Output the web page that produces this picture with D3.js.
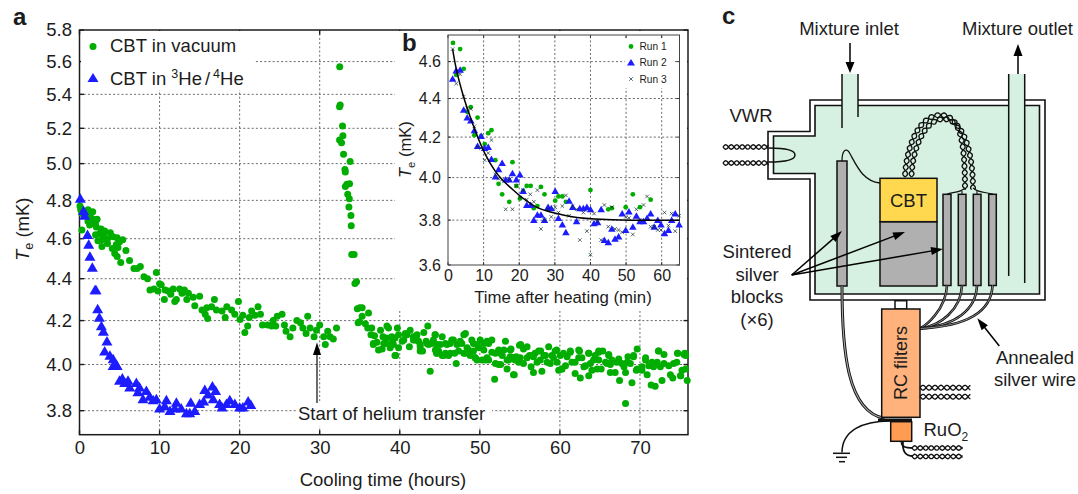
<!DOCTYPE html>
<html>
<head>
<meta charset="utf-8">
<style>
html, body {margin: 0; padding: 0; background: #fff;}
svg {display: block;}
text {font-family: "Liberation Sans", Arial, sans-serif; fill: #1c1c1c;}
</style>
<script src="https://d3js.org/d3.v7.min.js"></script>
</head>
<body>
<svg id="vis" width="1078" height="494"></svg>
<script>
// panel a: [cooling time in hours, Te in mK]
var vacuumEarly = [[0.06,4.77],[0.15,4.75],[1.06,4.75],[1.65,4.74],[0.3,4.73],[1.06,4.72],[1.4,4.71],[1.7,4.7],[1.06,4.69],[1.98,4.68],[1.27,4.67],[2.1,4.66],[2.7,4.65],[0.3,4.645],[3.15,4.64],[3.85,4.63],[2.5,4.625],[4.7,4.605],[5.4,4.595],[2.3,4.59],[2.8,4.595],[3.5,4.575],[2.8,4.56],[5,4.585],[4.8,4.555],[5.8,4.54],[4.4,4.525],[4.7,4.51],[5.15,4.48],[6.25,4.49],[6.8,4.45],[7.2,4.45],[7.6,4.46],[8.05,4.41],[8.5,4.4],[9.6,4.43],[10,4.375],[8.8,4.345],[9.3,4.35],[9.8,4.34],
  [2.2,4.7],[3,4.62],[3.5,4.6],[4.2,4.61],[2,4.62],[4.6,4.57],[4.1,4.55],
  [10.2,4.37],[10.7,4.345],[11.1,4.34],[11.7,4.35],[11.4,4.325],[10.6,4.3],[12.5,4.35],[13.1,4.345],[12.8,4.33],[13.6,4.33],[13.4,4.3],[12.1,4.3],[11.9,4.29],[14.2,4.31],[15,4.315],[14.4,4.27],[15.3,4.25],[15.7,4.23],[16,4.21],[15.9,4.26],[16.5,4.265],[16.85,4.3],[17.1,4.25],[17.8,4.245],[18.4,4.265],[19,4.25],[18.2,4.215],[19.4,4.23],[19.85,4.29],[20.05,4.205],[20.4,4.225],[21,4.175],[20.65,4.145],[21.2,4.215],[21.5,4.245],[21.9,4.225],[22.3,4.265],[22.6,4.23],[22.85,4.18],[23.5,4.18],[24,4.175],[24.5,4.175],[24.2,4.2],[24.7,4.22],[25.3,4.23],[25.6,4.18],[25.8,4.15],[26.3,4.125],[26.65,4.165],[27.15,4.2],[27.6,4.19],[27.9,4.165],[28.5,4.22],[28.3,4.14],[28.8,4.165],[29.3,4.125],[29.6,4.155],[30,4.18],[30.5,4.125],[30.7,4.09],[31,4.15],[31.3,4.125],[31.7,4.115],[32.1,4.165]];
var vacuumPeak = [[32.5,5.568],[32.56,5.336],[32.48,5.326],[32.85,5.213],[32.9,5.157],[32.48,5.133],[32.73,5.117],[32.98,5.053],[33.8,5.012],[33.15,4.968],[33.2,4.953],[33.73,4.89],[33.4,4.887],[33.2,4.874],[33.5,4.833],[33.7,4.808],[33.65,4.765],[33.9,4.72],[33.94,4.667],[34,4.52],[34.3,4.52],[34.4,4.377],[34.6,4.385],[34.7,4.255],[35,4.26],[34.8,4.19]];
var vacuumLate = [[35.3,4.26],[36.1,4.235],[35.3,4.22],[34.95,4.195],[35.7,4.185],[36,4.165],[36.5,4.165],[37.6,4.155],[38.4,4.175],[38.6,4.165],[39.7,4.165],[36.4,4.135],[36.85,4.13],[37.9,4.125],[36.7,4.095],[37.35,4.065],[37.8,4.07],[38.2,4.095],[38.8,4.075],[39.1,4.1],[39.4,4.12],[39.85,4.135],[40.3,4.105],[39.85,4.075],[39.5,4.04],[40.7,4.135],[41.3,4.155],[41.2,4.08],[41.7,4.125],[42.15,4.135],[43,4.145],[43.5,4.175],[42.35,4.105],[42.85,4.06],[42.55,4.08],[43.3,4.105],[43.6,4.09],[44.2,4.11],[44.45,4.135],[43.8,3.97],[44.65,4.09],[45.3,4.125],[44.85,4.06],[45.3,4.04],[45.7,4.05],[45.9,4.09],[46.5,4.11],[46.3,4.05],[46.85,4.05],[47.05,4.005],[47.35,4.06],[47.75,4.095],[48,4.135],[48.2,4.05],[48.6,4.065],[49,4.11],[48.8,4.04],[49.45,4.03],[50.05,4.11],[49.65,4.09],[50.5,4.065],[50.3,4.02],[50.9,4.105],[51.5,4.11],[51.1,4.02],[51.85,3.935],[51.5,4.055],[52.35,4.065],[53.2,4.105],[52.8,4.04],[51.95,4.005],[52.6,4],[53.4,3.98],[53.8,4.065],[54,4.03],[54.2,3.955],
  [36.7,4.09],[38.8,4.09],[39.4,4.04],[40.7,4.14],[41.9,4.11],[42.55,4.06],[44.4,4.135],[44.6,4.05],[45.5,4.04],[48.2,4.14],[49.4,4.03],[50.9,4.03],
  [37.15,4.1],[38,4.095],[38.4,4.12],[39,4.125],[39.2,4.09],[40.5,4.11],[40.9,4.135],[41.7,4.11],[42.15,4.11],[42.55,4.09],[43.4,4.095],[44,4.095],[44.45,4.065],[45.05,4.09],[45.7,4.095],[46.3,4.095],[46.7,4.11],[47.15,4.09],[47.55,4.105],[48.4,4.075],[49.2,4.095],[49.2,4.06],[49.85,4.075],[50.5,4.095],[51.1,4.095],[51.95,4.05],[52.6,4.05],[53,4.065],[53.8,4.035],[53.6,4.02],[44.65,4.05],[46.1,4.04],[48,4.05],[49.65,4.02],[50.7,4.02],[52.35,4],[53.4,4.02],
  [54.95,4.087],[55.45,4.07],[55.9,4.08],[53.9,4.07],[54,4.03],[54.55,4.035],[54.85,4.01],[54.3,3.955],[55.45,4.005],[56.2,4.04],[56.4,3.99],[56.7,3.965],[57.35,4.06],[56.9,4.05],[57.75,3.97],[57.55,4.02],[58.2,4.04],[58.6,4.08],[59.4,4.06],[58.8,4.005],[59.2,4.03],[59.85,3.975],[60.25,3.98],[60.45,4.05],[60.7,3.995],[61.3,4.055],[61.5,4.01],[62.45,4.06],[62.75,4.03],[61.9,3.96],[62.55,3.94],[63.2,3.995],[63.6,3.95],[63.6,4.05],[64.2,4.02],[64.85,4.055],[65.35,4.06],[64.65,3.98],[65.15,3.98],[66.1,4.045],[65.9,4.005],[66.3,3.965],[66.9,3.965],[67.1,4.01],[67.45,3.93],[68,3.99],[68.5,4.035],[69.2,4.04],[69.65,4.07],[69,3.92],[68.2,3.83],[69.55,3.975],[70.25,3.975],[70.9,3.955],[70.7,4.02],[71.5,4.01],[71.4,3.91],[71.9,3.905],[72.35,4.06],[73,4.045],[72.55,3.99],[72.75,3.93],[73.8,3.955],[74.1,3.94],[73.6,3.995],[74.6,4.01],[74.7,4.05],[75.5,4.045],[75.05,3.95],[75.7,3.98],[75.9,3.93],
  [54.2,4.03],[55.1,4.09],[56.5,4.04],[57.6,4.06],[59.6,4.065],[61.3,4.06],[62.35,4.065],[63.6,4.05],[64.85,4.06],[66.1,4.04],[69.2,4.035],[70.7,4.03],[72.3,4.06],[74.7,4.05],[75.6,4.05],[75.1,3.95],
  [54.4,4.02],[55.05,4.03],[55.9,4.03],[56.7,4.035],[57.15,4.01],[58,4.04],[58.4,4.01],[59,4.04],[59.65,4.01],[60.05,4.04],[60.25,3.98],[60.9,4.035],[61.9,4.01],[62.35,4.03],[63,3.99],[63.8,4.005],[64.4,4.04],[64,3.975],[64.85,4.02],[65.7,4.01],[66.5,4.02],[66.3,4],[67.35,4.025],[67.75,4.005],[68.4,4.01],[68.2,3.965],[68.8,4.005],[69.65,3.98],[70.25,3.99],[71.1,3.995],[71.7,3.99],[72.15,4.01],[73,4.005],[74.2,4.005],[75.25,3.975],[75.7,4.04]];
var heliumPoints = [[0.1,4.81],[0.5,4.745],[0.65,4.72],[1,4.62],[1.15,4.57],[1.3,4.51],[1.6,4.455],[1.94,4.345],[2.06,4.345],[2.27,4.255],[2.48,4.215],[2.73,4.175],[2.98,4.15],[3.43,4.105],[3.14,4.06],[3.8,4.04],[4.2,4.025],[4.48,4.005],[4.2,3.995],[4.7,3.995],[5.35,3.94],[5,3.93],[6.06,3.93],[5.64,3.92],[7.1,3.92],[6.27,3.9],[7.5,3.9],[8.35,3.885],[7.3,3.88],[8.77,3.86],[7.93,3.85],[9.6,3.85],[9.2,3.845],[10.85,3.845],[10,3.81],[10.65,3.82],[11.3,3.8],[12.1,3.835],[11.9,3.81],[12.7,3.81],[13.35,3.79],[13.77,3.79],[13.9,3.835],[14.4,3.8],[15,3.83],[15.5,3.84],[15.65,3.89],[16.06,3.87],[16.6,3.905],[17,3.885],[16.7,3.85],[17.5,3.83],[17.8,3.815],[18.35,3.83],[18.77,3.845],[19.4,3.83],[20,3.815],[20.4,3.815],[21.06,3.84],[21.4,3.825]];
var xTicksA = [0,10,20,30,40,50,60,70];
var yTicksA = [3.8,4.0,4.2,4.4,4.6,4.8,5.0,5.2,5.4,5.6,5.8];

// panel b: [time after heating in min, Te in mK]
var run1 = [[1.4,4.705],[2.3,4.527],[3.4,4.67],[4.4,4.56],[5.4,4.33],[6.4,4.355],[7.4,4.21],[8.3,4.3],[9.3,4.205],[10.3,4.165],[11.3,4.22],[12.2,4.235],[13.3,4.085],[14.2,3.97],[15.2,3.92],[17.2,3.885],[18.1,4.075],[19.2,3.96],[20.2,3.9],[21.1,3.935],[22.1,3.96],[23.2,3.96],[24.1,3.855],[25.1,3.865],[26.1,3.955],[27.1,3.92],[28.1,3.85],[30.1,3.89],[31,3.91],[32.1,3.91],[33.1,3.885],[40,3.94],[45,3.85],[46,3.855],[49.9,3.86],[51.9,3.92],[53.9,3.86],[56.9,3.895]];
var run2 = [[1.3,4.505],[2.3,4.55],[3.4,4.555],[4.4,4.34],[5.4,4.3],[6.4,4.285],[7.4,4.235],[8.3,4.155],[9.3,4.205],[10.3,4.145],[11.3,4.15],[12.2,4.09],[13.3,4.005],[14.2,4.04],[15.2,4.07],[16.2,3.99],[17.2,3.99],[18.1,4.02],[19.2,3.99],[20.2,4.015],[21.1,3.935],[22.1,3.87],[23.2,3.87],[24.1,3.8],[25.1,3.825],[26.1,3.825],[27.1,3.8],[28.1,3.86],[29,3.855],[30.1,3.935],[31,3.81],[32.1,3.78],[33.1,3.745],[34,3.89],[35,3.86],[36.1,3.795],[37,3.855],[38,3.855],[39,3.86],[40,3.85],[41,3.785],[42,3.79],[43,3.85],[43.9,3.71],[45,3.7],[46,3.76],[46.9,3.715],[47.9,3.725],[48.9,3.83],[49.9,3.755],[50.8,3.84],[51.9,3.77],[52.9,3.82],[53.9,3.795],[54.9,3.795],[55.9,3.81],[56.9,3.83],[57.9,3.77],[58.9,3.8],[59.8,3.78],[60.8,3.74],[61.9,3.755],[62.8,3.8],[63.8,3.83],[64.9,3.78]];
var run3 = [[1.3,4.67],[2.3,4.48],[3.4,4.53],[4.4,4.41],[5.4,4.35],[6.4,4.345],[7.4,4.255],[8.3,4.15],[9.3,4.145],[10.3,4.085],[11.3,4.12],[12.2,4.185],[13.3,4.015],[14.2,3.995],[15.2,3.99],[16.2,3.85],[17.2,3.99],[18.1,3.85],[19.2,3.96],[20.2,3.905],[21.1,3.94],[22.1,3.895],[23.1,3.92],[24.1,3.885],[25.1,3.94],[26.1,3.76],[27.1,3.8],[28.1,3.85],[29,3.815],[30.1,3.86],[31,3.835],[32.1,3.865],[33.1,3.915],[34,3.82],[35,3.865],[36.1,3.85],[37,3.71],[38,3.835],[39,3.75],[40,3.645],[41,3.83],[42,3.795],[43,3.71],[43.9,3.87],[45,3.77],[46,3.86],[46.9,3.76],[47.9,3.755],[48.9,3.745],[49.9,3.815],[50.8,3.81],[51.9,3.735],[52.9,3.85],[53.9,3.8],[54.9,3.87],[55.9,3.91],[56.9,3.77],[57.9,3.77],[58.9,3.755],[59.8,3.755],[60.8,3.835],[61.9,3.775],[62.8,3.83],[63.8,3.75],[64.9,3.82]];
var fitCurve = [[1.3,4.67],[2,4.59],[3.9,4.44],[6.9,4.27],[10.3,4.12],[13.3,4.03],[18,3.945],[24.3,3.865],[32,3.825],[41.3,3.805],[51,3.8],[65,3.8]];
var xTicksB = [0,10,20,30,40,50,60];
var yTicksB = [3.6,3.8,4.0,4.2,4.4,4.6];

var green = "#00ad00", blue = "#1c1cff", ink = "#1c1c1c", darkX = "#0d2b2b";
var svg = d3.select("#vis");

function grid(g, x, y, xt, yt) {
  var gg = g.append("g").attr("stroke", "#6a6a6a").attr("stroke-width", 1).attr("stroke-dasharray", "2,2.2");
  xt.forEach(function(d) { if (d > x.domain()[0]) gg.append("line").attr("x1", x(d)).attr("x2", x(d)).attr("y1", y.range()[0]).attr("y2", y.range()[1]); });
  yt.forEach(function(d) { if (d > y.domain()[0] && d < y.domain()[1]) gg.append("line").attr("x1", x.range()[0]).attr("x2", x.range()[1]).attr("y1", y(d)).attr("y2", y(d)); });
}

function ticks(g, x, y, xt, yt, len, color, w) {
  var gg = g.append("g").attr("stroke", color).attr("stroke-width", w);
  xt.forEach(function(d) {
    gg.append("line").attr("x1", x(d)).attr("x2", x(d)).attr("y1", y.range()[0]).attr("y2", y.range()[0] - len);
    gg.append("line").attr("x1", x(d)).attr("x2", x(d)).attr("y1", y.range()[1]).attr("y2", y.range()[1] + len);
  });
  yt.forEach(function(d) {
    gg.append("line").attr("x1", x.range()[0]).attr("x2", x.range()[0] + len).attr("y1", y(d)).attr("y2", y(d));
    gg.append("line").attr("x1", x.range()[1]).attr("x2", x.range()[1] - len).attr("y1", y(d)).attr("y2", y(d));
  });
}

function dots(g, data, x, y, r) {
  g.selectAll(null).data(data).enter().append("circle")
    .attr("cx", function(d) { return x(d[0]); }).attr("cy", function(d) { return y(d[1]); })
    .attr("r", r).attr("fill", green);
}

function tris(g, data, x, y, w, h) {
  var s = "M0," + (-h * 0.55) + "L" + (w / 2) + "," + (h * 0.45) + "L" + (-w / 2) + "," + (h * 0.45) + "Z";
  g.selectAll(null).data(data).enter().append("path")
    .attr("d", s).attr("fill", blue)
    .attr("transform", function(d) { return "translate(" + x(d[0]) + "," + y(d[1]) + ")"; });
}

function teLabel(g, xx, yy, size) {
  var t = g.append("text").attr("transform", "translate(" + xx + "," + yy + ") rotate(-90)").attr("font-size", size);
  t.append("tspan").attr("font-style", "italic").text("T");
  t.append("tspan").attr("font-size", size * 0.68).attr("dy", size * 0.22).text("e");
  t.append("tspan").attr("dy", -size * 0.22).text(" (mK)");
}

function label(txt, xx, yy, size, anchor, bold) {
  return svg.append("text").attr("x", xx).attr("y", yy).attr("font-size", size)
    .attr("text-anchor", anchor || "start").attr("font-weight", bold ? "bold" : null).text(txt);
}

// ---- panel a
var xA = d3.scaleLinear().domain([0, 76]).range([79.5, 688]);
var yA = d3.scaleLog().domain([3.7, 5.8]).range([434.7, 30]);
var a = svg.append("g");
grid(a, xA, yA, xTicksA, yTicksA);
ticks(a, xA, yA, xTicksA, yTicksA, 4.5, ink, 1.4);
// white boxes behind the legend, the inset and the annotation
a.append("rect").attr("x", 81).attr("y", 31).attr("width", 174).attr("height", 59).attr("fill", "#fff");
a.append("rect").attr("x", 395).attr("y", 31).attr("width", 292).attr("height", 280).attr("fill", "#fff");
a.append("rect").attr("x", 297).attr("y", 402).attr("width", 195).attr("height", 24).attr("fill", "#fff");
a.append("rect").attr("x", xA.range()[0]).attr("y", yA.range()[1]).attr("width", xA.range()[1] - xA.range()[0]).attr("height", yA.range()[0] - yA.range()[1])
  .attr("fill", "none").attr("stroke", ink).attr("stroke-width", 1.5);

var xAxisA = d3.axisBottom(xA).tickValues(xTicksA).tickSize(0).tickPadding(0).tickFormat(d3.format("d"));
var yAxisA = d3.axisLeft(yA).tickValues(yTicksA).tickSize(0).tickPadding(0).tickFormat(d3.format(".1f"));
a.append("g").attr("transform", "translate(0,441)").call(xAxisA).call(function(s) { s.select(".domain").remove(); s.selectAll("text").attr("font-size", 18.5).attr("fill", ink).attr("font-family", "Liberation Sans"); });
a.append("g").attr("transform", "translate(72,0)").call(yAxisA).call(function(s) { s.select(".domain").remove(); s.selectAll("text").attr("font-size", 18.5).attr("fill", ink).attr("font-family", "Liberation Sans"); });

dots(a, vacuumEarly.concat(vacuumPeak, vacuumLate), xA, yA, 3.5);
tris(a, heliumPoints, xA, yA, 11, 9.5);

label("a", 13, 24.5, 24, "start", true);
teLabel(a, 29, 261, 18.5);
label("Cooling time (hours)", 383, 486, 18.5, "middle");
label("Start of helium transfer", 298, 420, 18.5);
label("CBT in vacuum", 110, 52, 18.5);
var he = label("CBT in ", 110, 85, 18.5);
he.append("tspan").attr("font-size", 12.5).attr("dy", -7).text("3");
he.append("tspan").attr("dy", 7).text("He");
he.append("tspan").attr("dx", 3).text("/");
he.append("tspan").attr("dx", 3).attr("font-size", 12.5).attr("dy", -7).text("4");
he.append("tspan").attr("dy", 7).text("He");
a.append("circle").attr("cx", 93).attr("cy", 46.5).attr("r", 3.5).attr("fill", green);
a.append("path").attr("d", "M93,73L98.5,82L87.5,82Z").attr("fill", blue);
// arrow to the start of the transfer
a.append("line").attr("x1", 317).attr("x2", 317).attr("y1", 403).attr("y2", 350).attr("stroke", ink).attr("stroke-width", 1.3);
a.append("path").attr("d", "M317,342.5L321,355L313,355Z").attr("fill", "#000");

// ---- panel b
var xB = d3.scaleLinear().domain([0, 65]).range([448, 679.5]);
var yB = d3.scaleLog().domain([3.6, 4.75]).range([265, 35]);
var b = svg.append("g");
grid(b, xB, yB, xTicksB, yTicksB);
ticks(b, xB, yB, xTicksB, yTicksB, 3, "#333", 1);
b.append("rect").attr("x", 625).attr("y", 38).attr("width", 50).attr("height", 50).attr("fill", "#fff");
b.append("rect").attr("x", xB.range()[0]).attr("y", yB.range()[1]).attr("width", xB.range()[1] - xB.range()[0]).attr("height", yB.range()[0] - yB.range()[1])
  .attr("fill", "none").attr("stroke", "#444").attr("stroke-width", 1);
var xAxisB = d3.axisBottom(xB).tickValues(xTicksB).tickSize(0).tickPadding(0).tickFormat(d3.format("d"));
var yAxisB = d3.axisLeft(yB).tickValues(yTicksB).tickSize(0).tickPadding(0).tickFormat(d3.format(".1f"));
b.append("g").attr("transform", "translate(0,269.5)").call(xAxisB).call(function(s) { s.select(".domain").remove(); s.selectAll("text").attr("font-size", 16).attr("fill", ink).attr("font-family", "Liberation Sans"); });
b.append("g").attr("transform", "translate(441,0)").call(yAxisB).call(function(s) { s.select(".domain").remove(); s.selectAll("text").attr("font-size", 16).attr("fill", ink).attr("font-family", "Liberation Sans"); });

dots(b, run1, xB, yB, 2.4);
tris(b, run2, xB, yB, 7.5, 6.5);
var xMark = d3.symbol().type(d3.symbolX).size(10);
b.selectAll(null).data(run3).enter().append("path").attr("d", xMark).attr("fill", darkX).attr("stroke", darkX).attr("stroke-width", 0.7)
  .attr("transform", function(d) { return "translate(" + xB(d[0]) + "," + yB(d[1]) + ")"; });
b.append("path").attr("d", d3.line().x(function(d) { return xB(d[0]); }).y(function(d) { return yB(d[1]); }).curve(d3.curveMonotoneX)(fitCurve))
  .attr("fill", "none").attr("stroke", "#000").attr("stroke-width", 1.5);

label("b", 402, 50.5, 24, "start", true);
teLabel(b, 411, 178, 16.5);
label("Time after heating (min)", 563, 303, 16.8, "middle");
b.append("circle").attr("cx", 631).attr("cy", 46.5).attr("r", 2.4).attr("fill", green);
b.append("path").attr("d", "M631,59L635,65.5L627,65.5Z").attr("fill", blue);
b.append("path").attr("d", xMark).attr("fill", darkX).attr("stroke", darkX).attr("stroke-width", 0.7).attr("transform", "translate(631,79)");
label("Run 1", 639.5, 50, 10.2);
label("Run 2", 639.5, 66, 10.2);
label("Run 3", 639.5, 83, 10.2);

// ---- panel c, the schematic
var c = svg.append("g");
var outerShell = [[810,100],[1045,100],[1045,300],[810,300],[810,179],[768,179],[768,131.5],[810,131.5]];
var innerShell = [[815,105.5],[1039.5,105.5],[1039.5,294],[815,294],[815,173.5],[773.5,173.5],[773.5,136],[815,136]];
var sideBlocks = [[943,951],[958.3,966],[973.3,981],[988.7,996.3]];
var lowerWires = [947,962,977,992.5];

function poly(p) { return "M" + p.join("L") + "Z"; }
function seg(d, w, col, fill) { return c.append("path").attr("d", d).attr("fill", fill || "none").attr("stroke", col || "#111").attr("stroke-width", w || 1.5); }
function box(x0, x1, y0, y1, fill, w) { return c.append("rect").attr("x", x0).attr("y", y0).attr("width", x1 - x0).attr("height", y1 - y0).attr("fill", fill).attr("stroke", "#111").attr("stroke-width", w || 1.5); }
function arrow(x0, y0, x1, y1, hl, hw) {
  var ang = Math.atan2(y1 - y0, x1 - x0), ca = Math.cos(ang), sa = Math.sin(ang);
  seg("M" + x0 + "," + y0 + "L" + (x1 - ca * hl * 0.8) + "," + (y1 - sa * hl * 0.8), 1.5, "#000");
  c.append("path").attr("fill", "#000").attr("d", "M" + x1 + "," + y1 +
    "L" + (x1 - ca * hl - sa * hw / 2) + "," + (y1 - sa * hl + ca * hw / 2) +
    "L" + (x1 - ca * hl + sa * hw / 2) + "," + (y1 - sa * hl - ca * hw / 2) + "Z");
}
// two strands wound around a centre line
function twist(d, amp, period, w) {
  var tmp = c.append("path").attr("d", d).attr("fill", "none").node();
  var len = tmp.getTotalLength();
  [0, Math.PI].forEach(function(ph) {
    var pts = [];
    for (var s = 0; s <= len; s += 0.7) {
      var p = tmp.getPointAtLength(s), q = tmp.getPointAtLength(Math.min(len, s + 0.5)), r = tmp.getPointAtLength(Math.max(0, s - 0.5));
      var dx = q.x - r.x, dy = q.y - r.y, n = Math.sqrt(dx * dx + dy * dy) || 1;
      var o = amp * Math.sin(2 * Math.PI * s / period + ph);
      pts.push([p.x - dy / n * o, p.y + dx / n * o]);
    }
    c.append("path").attr("d", d3.line()(pts)).attr("fill", "none").attr("stroke", "#111").attr("stroke-width", w || 1.35);
  });
  d3.select(tmp).remove();
}

c.append("path").attr("d", poly(outerShell)).attr("fill", "#fff").attr("stroke", "#111").attr("stroke-width", 1.6);
c.append("path").attr("d", poly(innerShell)).attr("fill", "#d6f1e1").attr("stroke", "#111").attr("stroke-width", 1.6);
// inlet and outlet tubes
c.append("rect").attr("x", 842).attr("y", 74).attr("width", 16).attr("height", 34).attr("fill", "#d6f1e1");
c.append("rect").attr("x", 1008.7).attr("y", 74).attr("width", 16).attr("height", 34).attr("fill", "#d6f1e1");
seg("M842,74V128"); seg("M858,74V117"); seg("M1008.7,74V276"); seg("M1024.7,74V283");
arrow(850, 43, 850, 73, 11, 9);
arrow(1018, 74, 1018, 44, 12, 9);
label("Mixture inlet", 849, 35, 18.5, "middle");
label("Mixture outlet", 1017.5, 35, 18.5, "middle");
label("VWR", 729.5, 121.5, 18.5);
// VWR loop
twist("M723,147H769", 2.2, 11); twist("M723,163H769", 2.2, 11);
seg("M769,148C782,148 795,149 795,155C795,161 782,162 769,162", 1.5);

// blocks
box(837, 847, 161, 286, "#b0b0b0");
box(880, 937, 221.7, 286, "#b0b0b0");
box(880, 937, 178.3, 221.7, "#ffd84f");
label("CBT", 908.5, 206.7, 18.5, "middle");
sideBlocks.forEach(function(d) { box(d[0], d[1], 194.3, 285.5, "#b0b0b0"); });
seg("M842,161C842,150 846,148 849,152C856,164 862,181 880,183", 1.3);
// wires over the top
twist("M905,177C906,150 917,116 940,115C960,115 965,140 965,190", 2.4, 13, 1.35);
twist("M911.5,177C912,152 923,120 943,119C963,119 973,150 973,190", 2.4, 13, 1.35);
seg("M947,194C952,192 960,193 965,188", 1.1);
seg("M973,188C978,193 986,192 993,194", 1.1);
seg("M962,194V191", 1.1); seg("M977,194V191", 1.1);

// filters and the lines into them
box(895, 906.7, 300.7, 309, "#fff");
lowerWires.forEach(function(d) {
  var w = "M" + d + ",285.5C" + (d - 1) + ",310 " + (d - 22) + ",326 920,328.5";
  seg(w, 2.6, "#111"); seg(w, 0.8, "#aaa");
});
var bigWire = "M842,286C842,350 847,412 885,418.5";
seg(bigWire, 3, "#111"); seg(bigWire, 1.1, "#aaa");
box(881.7, 920, 309, 417.3, "#ffb27c");
c.append("text").attr("transform", "translate(906.5,363) rotate(-90)").attr("font-size", 18).attr("text-anchor", "middle").text("RC filters");
twist("M920,387.7H971", 2.4, 12); twist("M920,396.7H971", 2.4, 12);
c.append("rect").attr("x", 878).attr("y", 418.5).attr("width", 34).attr("height", 3).attr("fill", "#111");
box(890.7, 911.7, 421.7, 441.3, "#ff9c52");
label("RuO", 923.5, 436, 18.5).append("tspan").attr("font-size", 12).attr("dy", 5).text("2");
// earth
seg("M890,421C862,421 842,431 842,452.5", 1.5);
seg("M833,453.3H850", 1.5); seg("M836,457.3H847", 1.5); seg("M839,461.7H845", 1.5);
seg("M901.5,441.5C901.5,447 905,448 913,448", 1.8); seg("M903,441.5C902,452 906,456 913,456", 1.8);
twist("M912,448H963", 2.2, 11); twist("M912,456.5H963", 2.2, 11);

// labels and pointers
["Sintered", "silver", "blocks", "(\u00d76)"].forEach(function(d, i) { label(d, 757, [258.3, 280.7, 303, 326][i], 18.5, "middle"); });
arrow(791.7, 275, 842, 231, 12, 8);
arrow(791.7, 275, 905, 232, 12, 8);
arrow(791.7, 275, 943, 249, 12, 8);
label("Annealed", 1035, 364, 18.5, "middle");
label("silver wire", 1035, 386, 18.5, "middle");
arrow(999.3, 346, 977.3, 318.3, 12, 8);
label("c", 722, 24, 24, "start", true);
</script>
</body>
</html>
